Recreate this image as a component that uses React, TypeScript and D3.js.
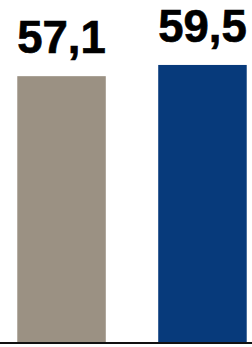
// Two-bar comparison chart with value labels
import React, { useEffect, useRef } from 'react';
import * as d3 from 'd3';

const categories = ['A', 'B'];
const values = [57.1, 59.5];
const labels = ['57,1', '59,5'];
const colors = ['#9b9183', '#073a7b'];

const App: React.FC = () => {
  const ref = useRef<SVGSVGElement>(null);

  useEffect(() => {
    if (!ref.current) return;
    const svg = d3.select(ref.current);
    svg.selectAll('*').remove();

    const width = 252;
    const height = 347;
    const baseline = 343;

    svg.attr('width', width).attr('height', height);

    const x = d3.scaleBand<string>()
      .domain(categories)
      .range([6, 258])
      .paddingInner(0.372)
      .paddingOuter(0.08);

    const y = d3.scaleLinear()
      .domain([0, 73.4])
      .range([baseline, 0]);

    const data = categories.map((c, i) => ({ c, v: values[i], label: labels[i], color: colors[i] }));

    svg.selectAll('.bar')
      .data(data)
      .enter()
      .append('rect')
      .attr('class', 'bar')
      .attr('x', d => x(d.c)!)
      .attr('y', d => y(d.v))
      .attr('width', x.bandwidth())
      .attr('height', d => baseline - y(d.v))
      .attr('fill', d => d.color);

    // value labels, a thin stroke makes them as heavy as the original
    svg.selectAll('.label')
      .data(data)
      .enter()
      .append('text')
      .attr('class', 'label')
      .attr('x', d => x(d.c)! + x.bandwidth() / 2)
      .attr('y', d => y(d.v) - 23)
      .attr('text-anchor', 'middle')
      .style('font-family', 'Liberation Sans, Arial, sans-serif')
      .style('font-weight', 'bold')
      .style('font-size', '45.5px')
      .style('fill', '#000')
      .style('stroke', '#000')
      .style('stroke-width', '0.7px')
      .text(d => d.label);

    // baseline
    svg.append('line')
      .attr('x1', 0)
      .attr('x2', width)
      .attr('y1', baseline)
      .attr('y2', baseline)
      .attr('stroke', '#111')
      .attr('stroke-width', 2);
  }, []);

  return (
    <svg ref={ref} style={{ position: 'absolute', left: 0, top: 0, display: 'block' }}></svg>
  );
};

export default App;
